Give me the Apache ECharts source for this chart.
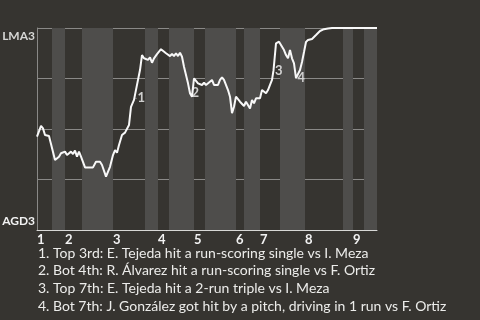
<!DOCTYPE html>
<html>
<head>
<meta charset="utf-8">
<script src="https://cdn.jsdelivr.net/npm/echarts@6/dist/echarts.min.js"></script>
<style>
  html, body { margin: 0; padding: 0; background: #363430; }
  #chart { width: 480px; height: 320px; }
</style>
</head>
<body>
<div id="chart"></div>
<script>
// game progress runs 0..340, win probability 0..100 (LMA3 on top)
var topStarts = [0, 28, 76, 121, 157, 199, 223, 268, 316];
var botStarts = [15, 45, 108, 132, 168, 207, 243, 306, 327];
var gameEnd = 340;
var innings = ['1', '2', '3', '4', '5', '6', '7', '8', '9'];

var progress = [0, 4, 6, 8, 10, 12, 14, 18, 22, 24, 28, 30, 34, 36, 38, 40, 42, 44, 48, 53, 56, 59, 63, 65, 69, 70,
    73, 76, 78, 80, 82, 85, 88, 90, 92, 94, 97, 99, 101, 103, 105, 107, 109, 111, 113, 115, 117, 120, 124, 129,
    133, 135, 137, 139, 141, 143, 145, 147, 151, 153, 155, 157, 159, 161, 163, 165, 167, 169, 171, 175, 177, 181,
    183, 185, 187, 191, 193, 195, 197, 199, 203, 207, 209, 211, 213, 215, 217, 219, 221, 223, 225, 227, 229, 231,
    233, 235, 236.5, 239, 242, 244, 247, 249, 251, 253, 255, 257, 259, 261, 263, 265, 267, 269, 271, 275, 279,
    283, 287, 291, 295, 340];
var winProb = [46.2, 51.5, 50.3, 47, 47.5, 46.5, 46.2, 34.7, 36.3, 38, 38.8, 37.1, 38.8, 37.6, 39.3, 36.3, 38.8, 36.3,
    31, 31, 31, 33.8, 33.8, 32.2, 26.4, 25.9,
    31.3, 37.1, 39.6, 38.3, 42.1, 47, 48.2, 48.2, 52, 61, 64.4, 65.2, 74.3, 79.2, 86.6, 85, 85.5, 84.2, 85.5, 82.8,
    85, 87.1, 89.5, 87.5,
    86.1, 87.1, 86.1, 87.5, 86.1, 87.8, 85.8, 80.8, 72.6, 67.7, 66, 75.1, 74.3, 72.6, 73.4, 71.8, 72.9, 71.8, 71.8,
    74.3, 71.8, 71.8,
    74.3, 75.6, 74.3, 69.3, 66, 57.8, 61, 66, 63.5, 61.4, 63.5, 64.4, 60.2, 64.4, 62.7, 65.2, 66, 65.2, 69.3, 68.5,
    67.7, 69.3,
    71.8, 74.3, 79, 92.4, 93.2, 92.4, 89.1, 86.6, 85, 89.1, 85, 82.5, 75.2, 75.2, 79.2, 83.2, 88.1, 93.1, 94.1,
    94.6, 96.5,
    98.5, 99.4, 99.8, 100, 100];

var eventIds = ['1', '2', '3', '4'];
var eventAt = [99, 153, 236.5, 259];
var eventProb = [65.2, 67.7, 79, 75.2];
var eventNotes = [
    '1. Top 3rd: E. Tejeda hit a run-scoring single vs I. Meza',
    '2. Bot 4th: R. Álvarez hit a run-scoring single vs F. Ortiz',
    '3. Top 7th: E. Tejeda hit a 2-run triple vs I. Meza',
    '4. Bot 7th: J. González got hit by a pitch, driving in 1 run vs F. Ortiz'
];

var chartDom = document.getElementById('chart');
var chart = echarts.init(chartDom);

var lineData = progress.map((x, i) => [x, winProb[i]]);
var bands = botStarts.map((b, i) => [{xAxis: b}, {xAxis: i < topStarts.length - 1 ? topStarts[i + 1] : gameEnd}]);
var events = eventAt.map((x, i) => ({value: [x, eventProb[i]], name: eventIds[i]}));

var option = {
    backgroundColor: '#363430',
    animation: false,
    textStyle: {fontFamily: 'Lato, sans-serif'},
    grid: {left: 37, right: 103, top: 28, bottom: 90, containLabel: false, outerBoundsMode: 'none'},
    xAxis: {
        type: 'value',
        min: 0,
        max: gameEnd,
        splitLine: {show: false},
        axisTick: {show: false},
        axisLine: {show: true, lineStyle: {color: '#d8d8d6', width: 1}},
        axisLabel: {
            customValues: topStarts,
            formatter: (v) => innings[topStarts.indexOf(v)],
            align: 'left',
            margin: 3,
            color: '#f2f2f2',
            fontWeight: 'bold',
            fontSize: 13,
            fontFamily: 'Lato, sans-serif'
        }
    },
    yAxis: {
        type: 'value',
        min: 0,
        max: 100,
        interval: 25,
        axisTick: {show: false},
        axisLine: {show: true, lineStyle: {color: '#8a8987'}},
        splitLine: {show: true, lineStyle: {color: '#8a8987', width: 1}},
        axisLabel: {
            margin: 2,
            formatter: (v) => v === 100 ? '{t|LMA3}' : (v === 0 ? '{b|AGD3}' : ''),
            rich: {
                t: {color: '#d6d6d4', fontWeight: 'bold', fontSize: 12, padding: [16, 0, 0, 0], fontFamily: 'Lato, sans-serif'},
                b: {color: '#f2f2f2', fontWeight: 'bold', fontSize: 12, padding: [0, 0, 18, 0], fontFamily: 'Lato, sans-serif'}
            }
        }
    },
    series: [
        {
            type: 'line',
            z: -1,
            data: [],
            markArea: {
                silent: true,
                itemStyle: {color: '#4e4d4b'},
                data: bands
            }
        },
        {
            type: 'line',
            data: lineData,
            showSymbol: false,
            color: '#ffffff',
            lineStyle: {width: 2, color: '#f8f8f8'}
        },
        {
            type: 'scatter',
            data: events,
            symbolSize: 1,
            itemStyle: {color: '#ffffff'},
            label: {
                show: true,
                position: 'right',
                distance: 1,
                formatter: (p) => p.name,
                color: '#f4f4f4',
                fontWeight: 'bold',
                fontSize: 13,
                fontFamily: 'Lato, sans-serif'
            }
        }
    ],
    graphic: eventNotes.map((t, i) => ({
        type: 'text',
        left: 38,
        top: 246 + i * 17.7,
        style: {
            text: t,
            fill: '#ececea',
            fontSize: 14,
            fontFamily: 'Lato, sans-serif'
        }
    }))
};

chart.setOption(option);
</script>
</body>
</html>
